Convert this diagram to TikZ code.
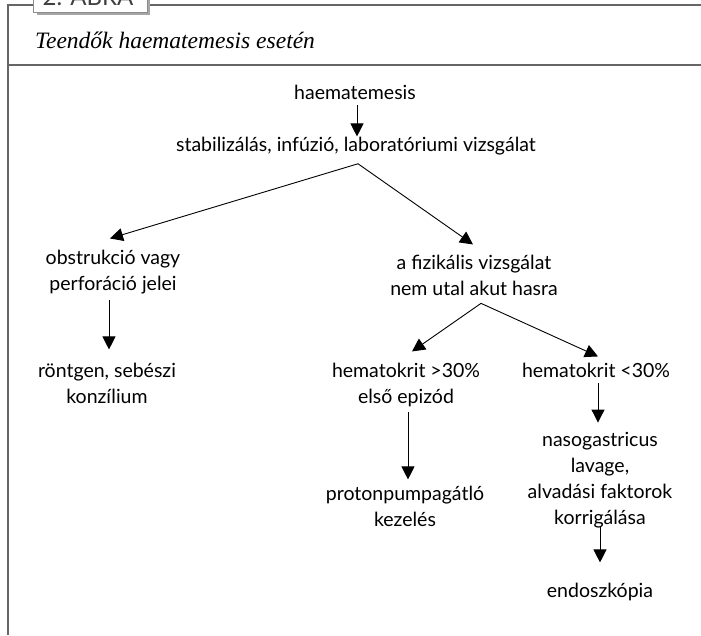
\documentclass[tikz,border=0pt]{standalone}
\usepackage{fontspec}
\setmainfont{Lato}
\newfontfamily\titlefont{Liberation Serif}
\usetikzlibrary{arrows.meta}
\tikzset{
  lbl/.style={align=center, inner sep=1pt, anchor=base, font=\fontsize{19.5}{26}\selectfont},
  arr/.style={line width=0.9pt, -{Triangle[length=13pt,width=13pt]}},
  ln/.style={line width=0.9pt},
  frame/.style={line width=1.6pt, draw=black!60},
}
\begin{document}
\begin{tikzpicture}[x=1pt,y=-1pt]
\useasboundingbox (0,0) rectangle (701,635);
\clip (0,0) rectangle (701,635);
% frame
\coordinate (fa) at (8,635);
\coordinate (fb) at (8,5);
\coordinate (fc) at (33,5);
\coordinate (fd) at (150,5);
\coordinate (fe) at (701,5);
\coordinate (ff) at (8,65);
\coordinate (fg) at (701,65);
\draw[frame] (fa) -- (fb) -- (fc);
\draw[frame] (fd) -- (fe);
\draw[frame] (ff) -- (fg);
% tab
\fill[black!35] (37,-10) rectangle (150,15);
\draw[fill=white, draw=black!45, line width=0.8pt] (33,-12) rectangle (147,12);
\node[font=\fontsize{24}{24}\selectfont, text=black!75, anchor=base, inner sep=0pt] (tab) at (88,5) {2. ÁBRA};
% title
\node[font=\titlefont\itshape\fontsize{23.5}{23.5}\selectfont, anchor=base west, inner sep=0pt] (title) at (35,48) {Teendők haematemesis esetén};
% nodes (base = baseline of the last line)
\node[lbl] (h) at (355,99) {haematemesis};
\node[lbl] (s) at (356,151) {stabilizálás, infúzió, laboratóriumi vizsgálat};
\node[lbl] (o) at (113,290) {obstrukció vagy\\perforáció jelei};
\node[lbl] (f) at (474,295) {a fizikális vizsgálat\\nem utal akut hasra};
\node[lbl] (r) at (107,403) {röntgen, sebészi\\konzílium};
\node[lbl] (h1) at (406,403) {hematokrit >30\%\\első epizód};
\node[lbl] (h2) at (596,377) {hematokrit <30\%};
\node[lbl] (p) at (405,526) {protonpumpagátló\\kezelés};
\node[lbl] (n) at (600,524) {nasogastricus\\lavage,\\alvadási faktorok\\korrigálása};
\node[lbl] (e) at (600,597) {endoszkópia};
\coordinate (sp1) at ([xshift=2pt,yshift=-8pt]s.south);
\coordinate (sp2) at ([xshift=7pt,yshift=-7pt]f.south);
% connectors
\draw[arr] ([xshift=2pt,yshift=-5pt]h.south) -- ([xshift=2pt,yshift=-1pt]h.south |- s.north);
\draw[arr] (sp1) -- ([xshift=-3pt,yshift=10pt]o.north);
\draw[arr] (sp1) -- ([xshift=-1pt,yshift=9pt]f.north);
\draw[arr] ([xshift=-4pt,yshift=-5pt]o.south) -- ([xshift=-4pt,yshift=12pt]o.south |- r.north);
\draw[arr] (sp2) -- ([xshift=6pt,yshift=10pt]h1.north);
\draw[arr] (sp2) -- ([xshift=2pt,yshift=5pt]h2.north);
\draw[arr] ([xshift=2pt,yshift=-4pt]h1.south) -- ([xshift=2pt,yshift=5pt]h1.south |- p.north);
\draw[arr] ([xshift=2pt,yshift=-5pt]h2.south) -- ([xshift=2pt,yshift=8pt]h2.south |- n.north);
\draw[arr] ([yshift=2pt]n.south) -- ([yshift=19pt]e.north);
\end{tikzpicture}
\end{document}
